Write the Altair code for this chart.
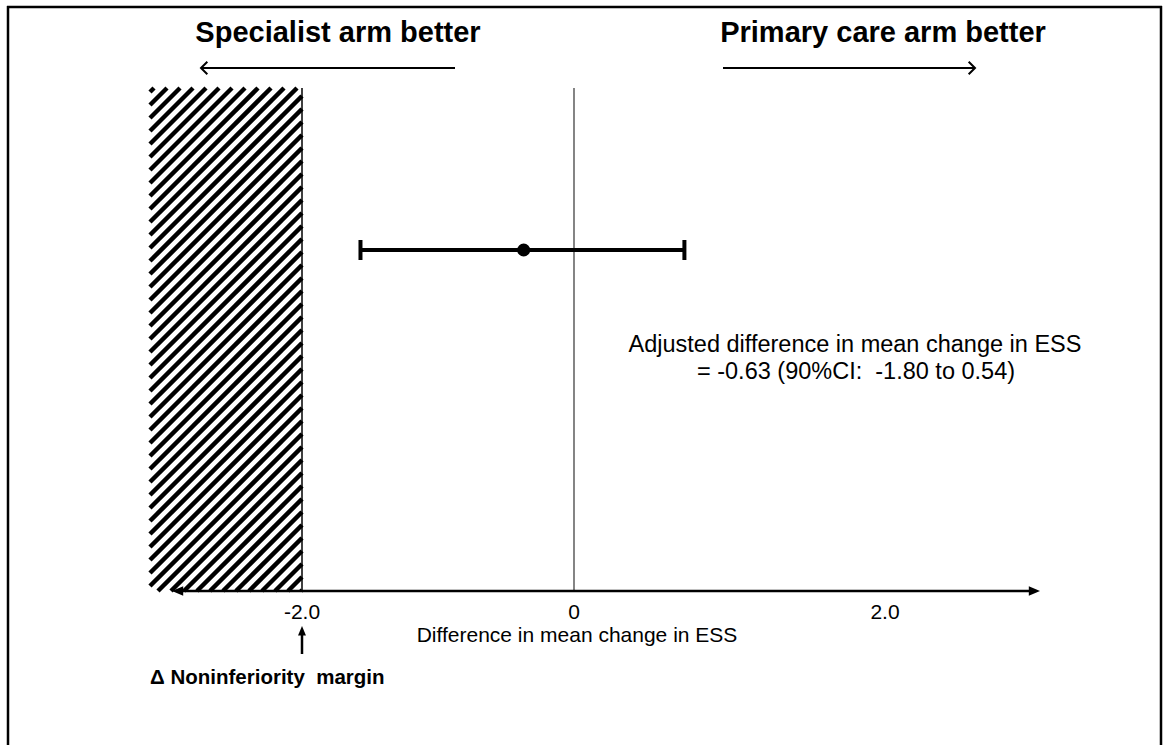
import altair as alt
import pandas as pd

# ---- data ----
estimate = [-0.37]          # point estimate (drawn position)
ci_low = [-1.57]            # lower 90% CI bound (drawn position)
ci_high = [0.71]            # upper 90% CI bound (drawn position)
margin = [-2.0]             # noninferiority margin
tick_values = [-2.0, 0.0, 2.0]
tick_labels = ["-2.0", "0", "2.0"]

FONT = "Liberation Sans"
W, H = 1166, 745

# piecewise x scale reproducing the drawn axis
XS = alt.Scale(domain=[-2, 0, 2], range=[302, 574, 885], zero=False, nice=False)

# ---- decoration: hatch pattern of the inferiority zone ----
HX0, HX1, HY0, HY1 = 150, 302, 88, 591
STEP = 13
segs = []
c = HX0 + HY0 + 4
while c < HX1 + HY1:
    xs = max(HX0, c - HY1)
    xe = min(HX1, c - HY0)
    if xe > xs:
        segs.append({"x": xs, "y": c - xs, "x2": xe, "y2": c - xe})
    c += STEP
hatch_df = pd.DataFrame(segs)

one = pd.DataFrame({"k": [0]})
est_df = pd.DataFrame({"est": estimate, "lo": ci_low, "hi": ci_high})
bounds_df = pd.DataFrame({"b": ci_low + ci_high})
margin_df = pd.DataFrame({"m": margin})
ticks_df = pd.DataFrame({"v": tick_values, "lab": tick_labels})

hatch = alt.Chart(hatch_df).mark_rule(color="black", strokeWidth=4.5).encode(
    x=alt.X("x:Q", scale=None, axis=None),
    y=alt.Y("y:Q", scale=None, axis=None),
    x2="x2:Q", y2="y2:Q",
)

margin_line = alt.Chart(margin_df).mark_rule(color="black", strokeWidth=1.5).encode(
    x=alt.X("m:Q", scale=XS, axis=None), y=alt.value(HY0), y2=alt.value(HY1)
)

zero_line = alt.Chart(ticks_df).transform_filter("datum.v == 0").mark_rule(
    color="#333333", strokeWidth=1.2
).encode(x=alt.X("v:Q", scale=XS, axis=None), y=alt.value(HY0), y2=alt.value(HY1))

axis_line = alt.Chart(one).mark_rule(color="black", strokeWidth=2.5).encode(
    x=alt.value(178), x2=alt.value(1034), y=alt.value(591)
)
head_r = alt.Chart(one).mark_point(
    shape="M0,0L-1,-0.42L-1,0.42Z", filled=True, color="black", opacity=1, size=500
).encode(x=alt.value(1040), y=alt.value(591))
head_l = alt.Chart(one).mark_point(
    shape="M0,0L1,-0.42L1,0.42Z", filled=True, color="black", opacity=1, size=500
).encode(x=alt.value(172), y=alt.value(591))

ci_bar = alt.Chart(est_df).mark_rule(color="black", strokeWidth=4).encode(
    x=alt.X("lo:Q", scale=XS, axis=None), x2="hi:Q", y=alt.value(250)
)
caps = alt.Chart(bounds_df).mark_rule(color="black", strokeWidth=4).encode(
    x=alt.X("b:Q", scale=XS, axis=None), y=alt.value(240), y2=alt.value(260)
)
point = alt.Chart(est_df).mark_circle(color="black", opacity=1, size=170).encode(
    x=alt.X("est:Q", scale=XS, axis=None), y=alt.value(250)
)

tick_text = alt.Chart(ticks_df).mark_text(
    font=FONT, fontSize=21, color="black", align="center", baseline="middle"
).encode(x=alt.X("v:Q", scale=XS, axis=None), y=alt.value(613), text="lab:N")

axis_title = alt.Chart(one).mark_text(
    font=FONT, fontSize=21, color="black", align="center", baseline="middle",
    text="Difference in mean change in ESS",
).encode(x=alt.value(577), y=alt.value(636))

# noninferiority arrow
ni_line = alt.Chart(margin_df).mark_rule(color="black", strokeWidth=2.5).encode(
    x=alt.X("m:Q", scale=XS, axis=None), y=alt.value(634), y2=alt.value(654)
)
ni_head = alt.Chart(margin_df).mark_point(
    shape="M0,0L-0.42,1L0.42,1Z", filled=True, color="black", opacity=1, size=360
).encode(x=alt.X("m:Q", scale=XS, axis=None), y=alt.value(626))
ni_text = alt.Chart(one).mark_text(
    font=FONT, fontSize=20.5, fontWeight="bold", color="black", align="left", baseline="middle",
    text="\u0394 Noninferiority\u00a0 margin",
).encode(x=alt.value(150), y=alt.value(678))

# top direction labels
t_left = alt.Chart(one).mark_text(
    font=FONT, fontSize=29, fontWeight="bold", color="black", align="center", baseline="middle",
    text="Specialist arm better",
).encode(x=alt.value(338), y=alt.value(33))
t_right = alt.Chart(one).mark_text(
    font=FONT, fontSize=29, fontWeight="bold", color="black", align="center", baseline="middle",
    text="Primary care arm better",
).encode(x=alt.value(883), y=alt.value(33))
arr_l = alt.Chart(one).mark_rule(color="black", strokeWidth=2).encode(
    x=alt.value(201), x2=alt.value(455), y=alt.value(68)
)
arr_l_head = alt.Chart(one).mark_point(
    shape="M1,-1L0,0L1,1", filled=False, color="black", opacity=1, size=160, strokeWidth=2
).encode(x=alt.value(201), y=alt.value(68))
arr_r = alt.Chart(one).mark_rule(color="black", strokeWidth=2).encode(
    x=alt.value(723), x2=alt.value(975), y=alt.value(68)
)
arr_r_head = alt.Chart(one).mark_point(
    shape="M-1,-1L0,0L-1,1", filled=False, color="black", opacity=1, size=160, strokeWidth=2
).encode(x=alt.value(975), y=alt.value(68))

# annotation
ann1 = alt.Chart(one).mark_text(
    font=FONT, fontSize=23.5, color="black", align="center", baseline="middle",
    text="Adjusted difference in mean change in ESS",
).encode(x=alt.value(855), y=alt.value(345))
ann2 = alt.Chart(one).mark_text(
    font=FONT, fontSize=23.5, color="black", align="center", baseline="middle",
    text="= -0.63 (90%CI:\u00a0 -1.80 to 0.54)",
).encode(x=alt.value(856), y=alt.value(372))

# outer frame
frame_l = alt.Chart(one).mark_rule(color="black", strokeWidth=2.5).encode(
    x=alt.value(8), y=alt.value(6), y2=alt.value(H + 5)
)
frame_t = alt.Chart(one).mark_rule(color="black", strokeWidth=2.5).encode(
    x=alt.value(7), x2=alt.value(1162), y=alt.value(7)
)
frame_r = alt.Chart(one).mark_rule(color="black", strokeWidth=2.5).encode(
    x=alt.value(1161), y=alt.value(6), y2=alt.value(H + 5)
)

chart = alt.layer(
    hatch, margin_line, zero_line, axis_line, head_r, head_l,
    ci_bar, caps, point, tick_text, axis_title,
    ni_line, ni_head, ni_text, t_left, t_right, arr_l, arr_l_head, arr_r, arr_r_head,
    ann1, ann2, frame_l, frame_t, frame_r,
).resolve_scale(x="independent", y="independent").properties(
    width=W, height=H, autosize=alt.AutoSizeParams(type="none"), padding=0,
    background="white",
).configure_view(stroke=None)

chart.save("out.html", embed_options={"renderer": "svg", "actions": False})
